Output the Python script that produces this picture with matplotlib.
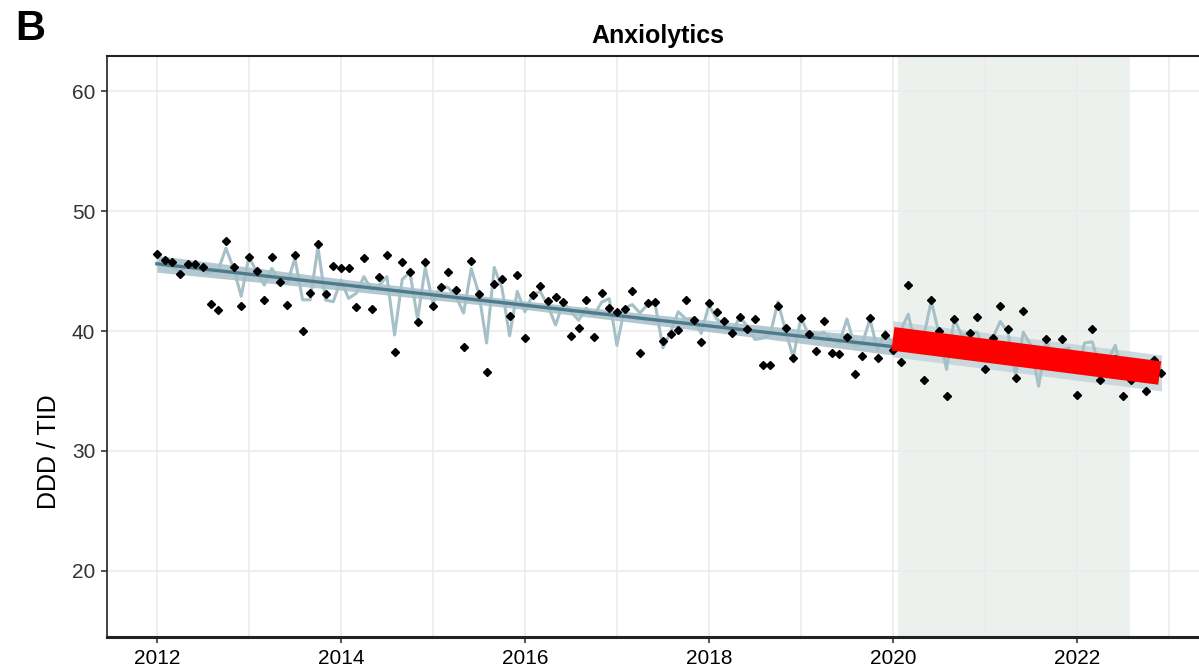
import matplotlib.pyplot as plt
import numpy as np

plt.rcParams['font.family'] = ['Liberation Sans', 'DejaVu Sans']

# monthly DDD/TID, Jan 2012 .. Dec 2022
observed = [46.39, 45.89, 45.72, 44.75, 45.58, 45.58, 45.31, 42.25, 41.72, 47.50, 45.31, 42.08,
            46.14, 44.97, 42.58, 46.19, 44.11, 42.14, 46.33, 39.97, 43.19, 47.22, 43.08, 45.42,
            45.22, 45.22, 42.03, 46.08, 41.86, 44.53, 46.36, 38.28, 45.78, 44.89, 40.72, 45.78,
            42.06, 43.67, 44.92, 43.42, 38.67, 45.83, 43.08, 36.61, 43.92, 44.31, 41.28, 44.69,
            39.44, 43.03, 43.72, 42.50, 42.81, 42.42, 39.56, 40.22, 42.56, 39.50, 43.14, 41.89,
            41.58, 41.86, 43.33, 38.19, 42.31, 42.39, 39.19, 39.72, 40.08, 42.58, 40.92, 39.06,
            42.36, 41.58, 40.83, 39.81, 41.19, 40.14, 40.97, 37.17, 37.17, 42.06, 40.22, 37.72,
            41.11, 39.72, 38.36, 40.83, 38.20, 38.06, 39.53, 36.44, 37.92, 41.06, 37.78, 39.70,
            38.42, 37.44, 43.80, 39.00, 35.90, 42.55, 40.00, 34.60, 40.97, 38.40, 39.81, 41.20,
            36.83, 39.44, 42.07, 40.14, 36.06, 41.65, 37.90, 37.60, 39.31, 37.40, 39.32, 37.20,
            34.70, 37.30, 40.14, 35.93, 37.00, 37.65, 34.55, 35.90, 37.25, 34.97, 37.57, 36.52]

fitted = [45.64, 45.50, 45.36, 44.94, 45.50, 45.44, 44.94, 44.81, 45.08, 46.90, 45.22, 42.90,
          46.19, 44.94, 43.83, 45.22, 44.11, 43.97, 46.06, 42.60, 42.60, 47.00, 42.58, 42.44,
          44.25, 42.72, 43.14, 44.53, 43.42, 43.83, 44.53, 39.67, 44.30, 44.90, 41.00, 45.30,
          42.30, 43.80, 43.60, 42.90, 41.50, 45.20, 43.10, 39.00, 45.30, 43.60, 39.60, 43.30,
          41.60, 43.00, 43.30, 42.10, 40.50, 42.40, 41.60, 40.90, 41.90, 41.30, 42.40, 42.70,
          38.80, 41.90, 42.20, 41.50, 42.20, 42.20, 38.60, 39.90, 41.60, 41.00, 41.06, 39.80,
          42.17, 41.00, 40.60, 39.75, 41.20, 40.40, 39.30, 39.40, 39.70, 42.44, 40.00, 37.80,
          41.10, 39.70, 39.70, 39.90, 39.30, 39.00, 41.00, 38.80, 38.90, 41.00, 38.40, 40.00,
          38.80, 40.00, 41.40, 38.50, 39.50, 42.50, 39.80, 36.80, 41.00, 39.60, 39.90, 39.90,
          38.10, 39.40, 40.80, 39.90, 36.30, 39.90, 38.80, 35.40, 39.10, 38.00, 38.40, 38.60,
          36.50, 39.00, 39.10, 36.90, 37.50, 38.80, 36.20, 37.70, 37.50, 36.00, 37.50, 36.70]

trend_years = [2012.0, 2020.0]
trend_values = [45.6, 38.7]

band_years = [2012.0, 2014.0, 2016.0, 2018.0, 2020.0]
band_low = [44.90, 43.40, 41.80, 39.95, 38.00]
band_high = [46.30, 44.35, 42.50, 40.90, 39.40]

post_years = [2020.0, 2022.92]
post_low = [37.85, 35.00]
post_high = [40.85, 38.00]

counterfactual_years = [2020.0, 2022.9]
counterfactual_values = [39.35, 36.5]

shade_start, shade_end = 2020.06, 2022.58

months = 2012 + np.arange(len(observed)) / 12

fig = plt.figure(figsize=(11.99, 6.72), dpi=100)
ax = fig.add_axes([0.0892, 0.0521, 0.9191, 0.8646])

ax.axvspan(shade_start, shade_end, color='#edf1ee', zorder=0.2, lw=0)
ax.fill_between(band_years, band_low, band_high, color='#93b1bc', alpha=0.7, lw=0, zorder=1)
ax.fill_between(post_years, post_low, post_high, color='#bcd0d6', alpha=0.75, lw=0, zorder=1)
ax.plot(months, fitted, color='#a6c0c8', lw=2.2, zorder=2)
ax.plot(trend_years, trend_values, color='#4d7b8b', lw=2.4, zorder=3)
ax.plot(months, observed, ls='none', marker='D', ms=3.7, color='black', zorder=4)
ax.plot(counterfactual_years, counterfactual_values, color='#ff0000', lw=17,
        solid_capstyle='butt', zorder=5)

ax.set_xlim(2011.457, 2023.435)
ax.set_ylim(14.5, 62.92)
ax.set_xticks(np.arange(2012, 2023, 2))
ax.set_xticks(np.arange(2013, 2024, 2), minor=True)
ax.set_yticks([20, 30, 40, 50, 60])
ax.set_axisbelow(True)
ax.grid(True, which='major', color='#ebebeb', lw=1.2)
ax.grid(True, which='minor', axis='x', color='#ebebeb', lw=1.2)
ax.tick_params(which='minor', length=0)
ax.tick_params(which='major', length=4.5, width=1.2, color='#333333',
               labelsize=15, pad=4)
ax.tick_params(axis='y', labelcolor='#333333')
ax.tick_params(axis='x', labelcolor='black')

ax.spines['right'].set_visible(False)
ax.spines['left'].set_linewidth(1.2)
ax.spines['top'].set_linewidth(1.5)
ax.spines['bottom'].set_linewidth(2.2)
for s in ['left', 'top', 'bottom']:
    ax.spines[s].set_color('#222222')

ax.set_title('Anxiolytics', fontsize=18, fontweight='bold', pad=9)
fig.text(49 / 1199, 1 - 452 / 672, 'DDD / TID', rotation=90, fontsize=18,
         ha='center', va='center')
fig.text(30 / 1199, 1 - 29 / 672, 'B', fontsize=30, fontweight='bold',
         ha='center', va='center')

fig.savefig('out.png', dpi=100)
